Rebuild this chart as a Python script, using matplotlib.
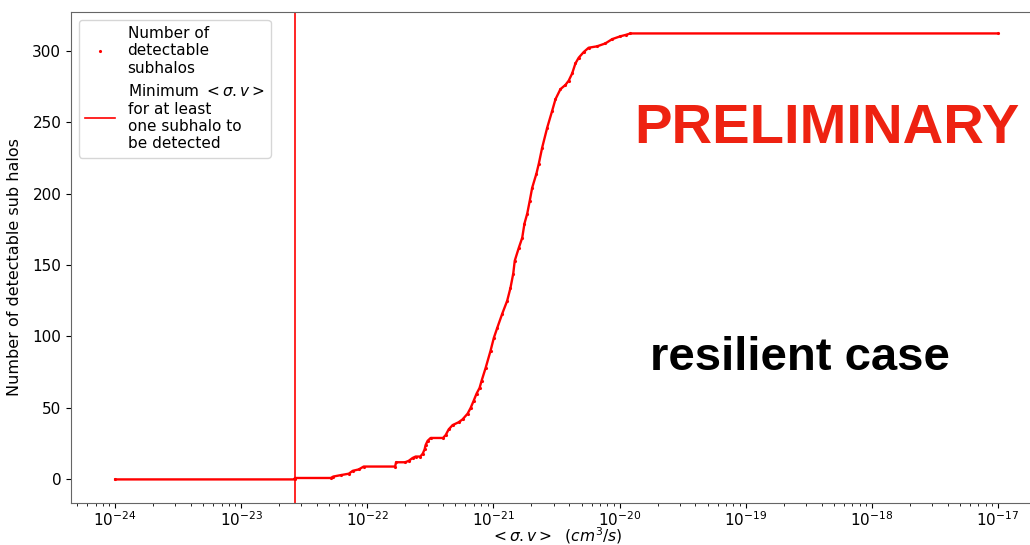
import matplotlib.pyplot as plt
import numpy as np

# Cumulative number of detectable subhalos vs annihilation cross-section:
# vertices of the curve, log10(<sigma.v> / cm^3 s^-1) and the count reached there
log_sigma_v = [
    -24.0, -22.575, -22.575, -22.290, -22.270, -22.211, -22.147, -22.116,
    -22.068, -22.029, -21.780, -21.772, -21.700, -21.672, -21.641, -21.617,
    -21.580, -21.561, -21.546, -21.538, -21.522, -21.498, -21.400, -21.379,
    -21.355, -21.324, -21.276, -21.245, -21.205, -21.181, -21.157, -21.134,
    -21.110, -21.094, -21.062, -21.023, -20.997, -20.970, -20.930, -20.891,
    -20.865, -20.843, -20.831, -20.799, -20.772, -20.754, -20.732, -20.712,
    -20.693, -20.659, -20.640, -20.614, -20.574, -20.534, -20.508, -20.469,
    -20.429, -20.403, -20.376, -20.350, -20.324, -20.284, -20.245, -20.178,
    -20.113, -20.059, -19.994, -19.950, -19.914, -17.0,
]
n_detectable = [
    0, 0, 1, 1, 2, 3, 4, 6,
    7, 9, 9, 12, 12, 13, 15, 16,
    16, 18, 21, 24, 27, 29, 29, 31,
    35, 38, 40, 42, 46, 50, 55, 60,
    64, 69, 78, 90, 99, 106, 116, 125,
    134, 144, 153, 162, 169, 179, 186, 195,
    204, 214, 221, 232, 246, 258, 266, 273,
    276, 279, 284, 291, 295, 299, 302, 303,
    305, 308, 310, 311, 312, 312,
]

W, H = 1030, 545


def make_plot():
    sigma_v = 10.0 ** np.array(log_sigma_v)
    counts = np.array(n_detectable)
    sigma_min = sigma_v[np.argmax(counts >= 1)]

    fig = plt.figure(figsize=(W / 100, H / 100), dpi=100)
    ax = fig.add_axes([71 / W, 1 - 503 / H, (1042 - 71) / W, (503 - 12) / H])

    ax.plot(sigma_v, counts, "-", color="red", lw=1.7)
    ax.plot(sigma_v, counts, ".", color="red", ms=2.5,
            label="Number of\ndetectable\nsubhalos")
    ax.axvline(sigma_min, color="red", lw=1.2,
               label="Minimum $<\\sigma.v>$\nfor at least\none subhalo to\nbe detected")

    ax.set_xscale("log")
    ax.set_xlim(10 ** -24.35, 10 ** -16.65)
    ax.set_ylim(-16.5, 327)
    ax.set_yticks([0, 50, 100, 150, 200, 250, 300])
    ax.set_xticks([10.0 ** k for k in range(-24, -16)])
    ax.tick_params(labelsize=11)
    ax.tick_params(axis="x", which="major", pad=1.5)
    for s in ax.spines.values():
        s.set_color("#666666")

    ax.set_xlabel("$<\\sigma.v>$  $(cm^3/s)$", fontsize=11.2)
    ax.xaxis.set_label_coords(0.5, -0.046)
    ax.set_ylabel("Number of detectable sub halos", fontsize=11.5)
    ax.yaxis.set_label_coords(-0.05, 0.48)
    ax.legend(loc="upper left", fontsize=11, handlelength=2.0,
              borderaxespad=0.5)

    fig.text(827 / W, 1 - 143 / H, "PRELIMINARY", color="#ee2211",
             fontsize=40.5, fontweight="bold", family="Liberation Sans",
             ha="center", va="baseline")
    fig.text(800 / W, 1 - 370 / H, "resilient case", color="black",
             fontsize=34, fontweight="bold", family="Liberation Sans",
             ha="center", va="baseline")

    fig.savefig("out.png", dpi=100)
    plt.close(fig)


if __name__ == "__main__":
    make_plot()
